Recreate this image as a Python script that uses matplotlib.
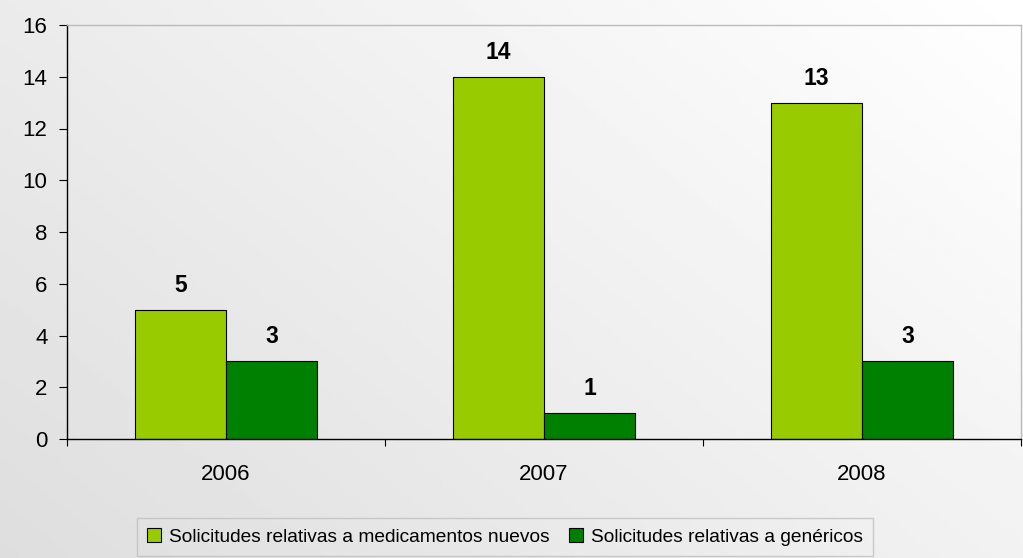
import matplotlib
matplotlib.use("Agg")
import matplotlib.pyplot as plt
import numpy as np
from matplotlib.patches import Patch

categories = ["2006", "2007", "2008"]
series_names = ["Solicitudes relativas a medicamentos nuevos", "Solicitudes relativas a genéricos"]
nuevos = [5, 14, 13]
genericos = [3, 1, 3]
yticks = [0, 2, 4, 6, 8, 10, 12, 14, 16]

plt.rcParams['font.family'] = ['Liberation Sans', 'DejaVu Sans']

W, H = 1023, 558
fig = plt.figure(figsize=(W/100, H/100), dpi=100)

# gradient background
bg = fig.add_axes([0, 0, 1, 1], zorder=-10)
xx, yy = np.meshgrid(np.linspace(0, 1, 200), np.linspace(0, 1, 200))
t = (xx * 0.6 + yy * 0.4)
vals = 0.87 + 0.13 * t
bg.imshow(vals, cmap='gray', vmin=0, vmax=1, origin='lower', extent=[0, 1, 0, 1], aspect='auto')
bg.axis('off')

L, R, T, B = 67, 1021, 25, 439
ax = fig.add_axes([L/W, 1 - B/H, (R-L)/W, (B-T)/H])
ax.patch.set_alpha(0)

x = np.arange(len(categories))
w = 1/3.5
c1, c2 = '#99CC00', '#008000'
b1 = ax.bar(x - w/2, nuevos, w, color=c1, edgecolor='black', linewidth=0.8)
b2 = ax.bar(x + w/2, genericos, w, color=c2, edgecolor='black', linewidth=0.8)

for rects, vals_ in ((b1, nuevos), (b2, genericos)):
    for r, v in zip(rects, vals_):
        ax.annotate(str(v), (r.get_x() + r.get_width()/2, v), xytext=(0, 13),
                    textcoords='offset points', ha='center', va='baseline',
                    fontsize=16.5, fontweight='bold')

ax.set_xlim(-0.5, len(categories) - 0.5)
ax.set_ylim(0, 16)
ax.set_yticks(yticks)
ax.tick_params(axis='y', direction='out', length=6, width=0.8, labelsize=16, pad=8)
ax.set_xticks(x)
ax.set_xticklabels(categories)
ax.tick_params(axis='x', which='major', length=0, labelsize=16, pad=18)
ax.set_xticks([-0.5, 0.5, 1.5, 2.5], minor=True)
ax.tick_params(axis='x', which='minor', direction='out', length=5, width=0.8)

for s in ('left', 'bottom'):
    ax.spines[s].set_color('black')
    ax.spines[s].set_linewidth(1)
for s in ('top', 'right'):
    ax.spines[s].set_color('#BBBBBB')
    ax.spines[s].set_linewidth(1)

handles = [Patch(facecolor=c1, edgecolor='black', linewidth=0.8),
           Patch(facecolor=c2, edgecolor='black', linewidth=0.8)]
leg = fig.legend(handles, series_names, loc='center', bbox_to_anchor=(505/W, 1 - 537/H),
                 ncol=2, fontsize=13.8, frameon=True, fancybox=False,
                 handlelength=0.75, handleheight=0.75, handletextpad=0.4, columnspacing=1.0,
                 borderpad=0.55)
leg.get_frame().set_edgecolor('#C0C0C0')
leg.get_frame().set_facecolor('none')
leg.get_frame().set_linewidth(1)

fig.savefig('out.png', dpi=100)
